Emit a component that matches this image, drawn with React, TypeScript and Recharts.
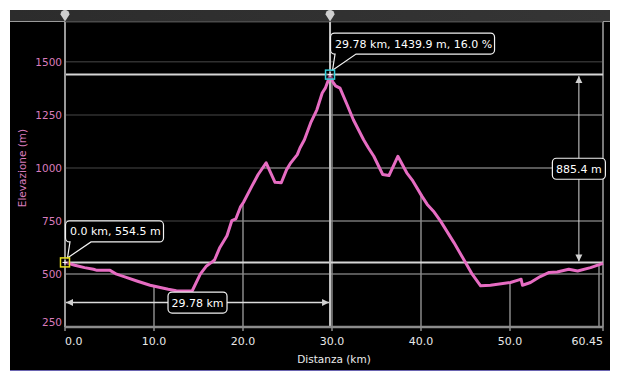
import React from 'react';
import {
  ComposedChart,
  Line,
  XAxis,
  YAxis,
  CartesianGrid,
  ReferenceLine,
  ReferenceDot,
  Label,
} from 'recharts';

// ---- data ----
const distanceKm = [0, 1.1, 2.2, 3.2, 3.6, 5.06, 5.8, 6.8, 8.07, 9.56, 10.7, 11.6, 12.5, 13.5, 14.3, 15.2, 15.9, 16.5, 16.8, 17.4, 18.2, 18.75, 19.2, 19.7, 20.06, 21.0, 21.7, 22.6, 23.6, 24.3, 24.9, 25.3, 26.1, 26.4, 26.9, 27.6, 28.3, 28.9, 29.25, 29.6, 29.78, 30.07, 30.4, 30.9, 31.7, 32.4, 33.55, 34.1, 34.7, 35.7, 36.4, 37.4, 38.4, 39.0, 40.1, 40.7, 41.4, 42.2, 43.7, 45.0, 45.75, 46.7, 47.8, 50.05, 51.0, 51.25, 51.4, 52.3, 53.4, 54.4, 55.3, 56.6, 57.6, 59.05, 60.45];
const elevationM = [554.5, 541, 530, 522, 517, 517, 499, 485, 467, 447, 436, 428, 421, 420, 421, 499, 538, 556, 566, 625, 680, 752, 760, 815, 838, 914, 969, 1024, 932, 930, 992, 1020, 1063, 1094, 1133, 1212, 1274, 1353, 1376, 1415, 1439.9, 1407, 1387, 1376, 1298, 1227, 1133, 1094, 1055, 969, 964, 1055, 977, 944, 867, 828, 796, 749, 648, 554, 499, 444, 447, 460, 472, 475, 447, 460, 488, 507, 509, 522, 514, 530, 550];

const xTicks = [0, 10, 20, 30, 40, 50, 60.45];
const xTickLabels = ['0.0', '10.0', '20.0', '30.0', '40.0', '50.0', '60.45'];
const yTicks = [250, 500, 750, 1000, 1250, 1500];
const dropLineKm = [10, 20, 30, 40, 50, 60];

const xDomain: [number, number] = [0, 60.45];
const yDomain: [number, number] = [250, 1688];

const startCursor = { km: 0, elev: 554.5 };
const peakCursor = { km: 29.78, elev: 1439.9, grade: 16.0 };
const rulerKm = 57.74; // vertical measuring arrow position
const rulerElev = 365; // horizontal measuring arrow position

const data = distanceKm.map((km, i) => ({ km, elev: elevationM[i] }));

// ---- helpers derived from the data ----
function elevAt(k: number): number {
  for (let i = 1; i < distanceKm.length; i++) {
    if (k <= distanceKm[i]) {
      const t = (k - distanceKm[i - 1]) / (distanceKm[i] - distanceKm[i - 1]);
      return elevationM[i - 1] + t * (elevationM[i] - elevationM[i - 1]);
    }
  }
  return elevationM[elevationM.length - 1];
}
function firstReach(level: number): number | null {
  if (elevationM[0] >= level) return distanceKm[0];
  for (let i = 1; i < elevationM.length; i++) {
    if (elevationM[i] >= level) {
      const t = (level - elevationM[i - 1]) / (elevationM[i] - elevationM[i - 1]);
      return distanceKm[i - 1] + t * (distanceKm[i] - distanceKm[i - 1]);
    }
  }
  return null;
}

const FONT = "'DejaVu Sans', Verdana, sans-serif";
const PINK = '#e66cc2';
const AXIS_PINK = '#d97cbc';

const XTick = (props: any) => {
  const { x, y, index, payload } = props;
  const last = xTicks.length - 1;
  const anchor = index === 0 ? 'start' : index === last ? 'end' : 'middle';
  const i = xTicks.indexOf(payload.value);
  return (
    <text x={x} y={y} dy="0.71em" textAnchor={anchor} fill="#e8e8e8" fontSize={11} fontFamily={FONT}>
      {xTickLabels[i >= 0 ? i : index]}
    </text>
  );
};

const YTick = (props: any) => {
  const { x, y, payload } = props;
  const shift = payload.value === yDomain[0] ? -4.5 : 0;
  return (
    <text x={x} y={y + shift} dy="0.36em" textAnchor="end" fill={AXIS_PINK} fontSize={10.5} fontFamily={FONT}>
      {payload.value}
    </text>
  );
};

const CursorShape = (props: any) => {
  const { x1, y1, y2, stroke } = props;
  const top = Math.min(y1, y2);
  const bottom = Math.max(y1, y2);
  const x = x1;
  return (
    <g>
      <line x1={x} x2={x} y1={top} y2={bottom} stroke={stroke} strokeWidth={2} />
      <path
        d={`M${x - 4.5},${top - 7.5} A4.5,4.5 0 0 1 ${x + 4.5},${top - 7.5} L${x},${top - 0.5} Z`}
        fill="#cfcfcf"
      />
    </g>
  );
};

const Callout = ({ cx, cy, text, boxW, color }: any) => {
  const h = 21;
  const r = 4;
  const bx = cx + 0.5;
  const by = cy - 41.5;
  const t1 = cx + 5;
  const t2 = cx + 26;
  const px = cx + 2.5;
  const py = cy - 4.5;
  const d = `M${bx + r},${by} H${bx + boxW - r} A${r},${r} 0 0 1 ${bx + boxW},${by + r} V${by + h - r} A${r},${r} 0 0 1 ${bx + boxW - r},${by + h} H${t2} L${px},${py} L${t1},${by + h} H${bx + r} A${r},${r} 0 0 1 ${bx},${by + h - r} V${by + r} A${r},${r} 0 0 1 ${bx + r},${by} Z`;
  return (
    <g>
      <path d={d} fill="#000" stroke="#f2f2f2" strokeWidth={1.2} />
      <text x={bx + 4.5} y={by + 14.5} fill="#ffffff" fontSize={11} fontFamily={FONT}>
        {text}
      </text>
      <rect x={cx - 4.5} y={cy - 4.5} width={9} height={9} fill="rgba(0,0,0,0.4)" stroke={color} strokeWidth={1.5} />
      <line x1={cx - 2.5} x2={cx + 2.5} y1={cy} y2={cy} stroke="#fff" strokeWidth={1} />
      <line x1={cx} x2={cx} y1={cy - 2.5} y2={cy + 2.5} stroke="#fff" strokeWidth={1} />
    </g>
  );
};

const RulerShape = (props: any) => {
  const { x1, y1, x2, y2, text, boxW } = props;
  const vertical = Math.abs(x1 - x2) < 1;
  const h = 21;
  const head = 7;
  const hw = 3.5;
  let cx: number;
  let cy: number;
  let line: React.ReactNode;
  let heads: React.ReactNode;
  if (vertical) {
    const ya = Math.min(y1, y2) + 1.5;
    const yb = Math.max(y1, y2) - 1;
    cx = x1;
    cy = (ya + yb) / 2;
    line = <line x1={x1} x2={x1} y1={ya} y2={yb} stroke="#d8d8d8" strokeWidth={1} />;
    heads = (
      <g fill="#d0d0d0">
        <polygon points={`${x1},${ya} ${x1 - hw},${ya + head} ${x1 + hw},${ya + head}`} />
        <polygon points={`${x1},${yb} ${x1 - hw},${yb - head} ${x1 + hw},${yb - head}`} />
      </g>
    );
  } else {
    const xa = Math.min(x1, x2) + 1;
    const xb = Math.max(x1, x2) - 1;
    cx = (xa + xb) / 2;
    cy = y1;
    line = <line x1={xa} x2={xb} y1={y1} y2={y1} stroke="#dcdcdc" strokeWidth={1.5} />;
    heads = (
      <g fill="#d0d0d0">
        <polygon points={`${xa},${y1} ${xa + head},${y1 - hw} ${xa + head},${y1 + hw}`} />
        <polygon points={`${xb},${y1} ${xb - head},${y1 - hw} ${xb - head},${y1 + hw}`} />
      </g>
    );
  }
  return (
    <g>
      {line}
      {heads}
      <rect x={cx - boxW / 2} y={cy - h / 2} width={boxW} height={h} rx={4} ry={4} fill="#000" stroke="#f2f2f2" strokeWidth={1.2} />
      <text x={cx} y={cy + 4} textAnchor="middle" fill="#ffffff" fontSize={11} fontFamily={FONT}>
        {text}
      </text>
    </g>
  );
};

export default function App() {
  const startText = `${startCursor.km.toFixed(1)} km, ${startCursor.elev.toFixed(1)} m`;
  const peakText = `${peakCursor.km.toFixed(2)} km, ${peakCursor.elev.toFixed(1)} m, ${peakCursor.grade.toFixed(1)} %`;
  const distText = `${(peakCursor.km - startCursor.km).toFixed(2)} km`;
  const climbText = `${(peakCursor.elev - startCursor.elev).toFixed(1)} m`;

  const brightSegments = yTicks
    .filter((l) => l > yDomain[0])
    .map((l) => ({ level: l, from: firstReach(l) }))
    .filter((s) => s.from !== null) as { level: number; from: number }[];

  return (
    <div style={{ position: 'fixed', left: 0, top: 0, width: 620, height: 382, background: '#ffffff', fontFamily: FONT }}>
      <div style={{ position: 'absolute', left: 10, top: 10, width: 600, height: 360, background: '#000', borderBottom: '1px solid #6a64b0' }} />
      <div
        style={{
          position: 'absolute',
          left: 10,
          top: 10,
          width: 600,
          height: 11,
          background: 'linear-gradient(to right, #2c2c2c, #353535)',
          borderBottom: '1px solid #9a9a9a',
        }}
      />
      <div style={{ position: 'absolute', left: 0, top: 0 }}>
        <ComposedChart width={620} height={382} data={data} margin={{ top: 22, right: 17, bottom: 24, left: 10 }}>
          <CartesianGrid vertical={false} stroke="#303030" strokeWidth={1.5} />
          <XAxis
            dataKey="km"
            type="number"
            domain={xDomain}
            ticks={xTicks}
            interval={0}
            height={31}
            tickSize={4}
            tickMargin={6}
            axisLine={{ stroke: '#8c8c8c', strokeWidth: 2.5 }}
            tickLine={{ stroke: '#8c8c8c', strokeWidth: 1.5 }}
            tick={<XTick />}
          >
            <Label
              content={(p: any) => {
                const vb = p.viewBox || {};
                return (
                  <text x={vb.x + vb.width / 2} y={vb.y + vb.height + 5} textAnchor="middle" fill="#ececec" fontSize={10.5} fontFamily={FONT}>
                    Distanza (km)
                  </text>
                );
              }}
            />
          </XAxis>
          <YAxis
            type="number"
            domain={yDomain}
            ticks={yTicks}
            interval={0}
            width={55}
            axisLine={false}
            tickLine={false}
            tickSize={0}
            tickMargin={3}
            tick={<YTick />}
          >
            <Label
              content={(p: any) => {
                const vb = p.viewBox || {};
                const x = vb.x + 16;
                const y = vb.y + vb.height / 2 - 6.5;
                return (
                  <text x={x} y={y} transform={`rotate(-90, ${x}, ${y})`} textAnchor="middle" fill={AXIS_PINK} fontSize={10.5} fontFamily={FONT}>
                    Elevazione (m)
                  </text>
                );
              }}
            />
          </YAxis>

          {brightSegments.map((s) => (
            <ReferenceLine
              key={`h${s.level}`}
              segment={[
                { x: s.from, y: s.level },
                { x: xDomain[1], y: s.level },
              ]}
              stroke="#6a6a6a"
              strokeWidth={1.5}
            />
          ))}
          {dropLineKm.map((k) => (
            <ReferenceLine
              key={`v${k}`}
              segment={[
                { x: k, y: yDomain[0] },
                { x: k, y: elevAt(k) },
              ]}
              stroke="#8a8a8a"
              strokeWidth={1.5}
            />
          ))}
          <ReferenceLine x={xDomain[1]} stroke="#7a7a7a" strokeWidth={2} />
          <ReferenceLine y={startCursor.elev} stroke="#d6d6d6" strokeWidth={2} />
          <ReferenceLine y={peakCursor.elev} stroke="#d6d6d6" strokeWidth={2} />
          <ReferenceLine x={startCursor.km} stroke="#9a9a9a" shape={(p: any) => <CursorShape {...p} stroke="#9a9a9a" />} />
          <ReferenceLine x={peakCursor.km} stroke="#c4c4c4" shape={(p: any) => <CursorShape {...p} stroke="#c4c4c4" />} />

          <Line
            type="linear"
            dataKey="elev"
            stroke={PINK}
            strokeWidth={3}
            dot={false}
            activeDot={false}
            isAnimationActive={false}
            strokeLinejoin="round"
          />

          <ReferenceLine
            segment={[
              { x: startCursor.km, y: rulerElev },
              { x: peakCursor.km, y: rulerElev },
            ]}
            shape={(p: any) => <RulerShape {...p} text={distText} boxW={59} />}
          />
          <ReferenceLine
            segment={[
              { x: rulerKm, y: startCursor.elev },
              { x: rulerKm, y: peakCursor.elev },
            ]}
            shape={(p: any) => <RulerShape {...p} text={climbText} boxW={53} />}
          />
          <ReferenceDot
            x={startCursor.km}
            y={startCursor.elev}
            r={5}
            shape={(p: any) => <Callout cx={p.cx} cy={p.cy} text={startText} boxW={98} color="#e8e020" />}
          />
          <ReferenceDot
            x={peakCursor.km}
            y={peakCursor.elev}
            r={5}
            shape={(p: any) => <Callout cx={p.cx} cy={p.cy} text={peakText} boxW={164} color="#36d0dc" />}
          />
        </ComposedChart>
      </div>
    </div>
  );
}
